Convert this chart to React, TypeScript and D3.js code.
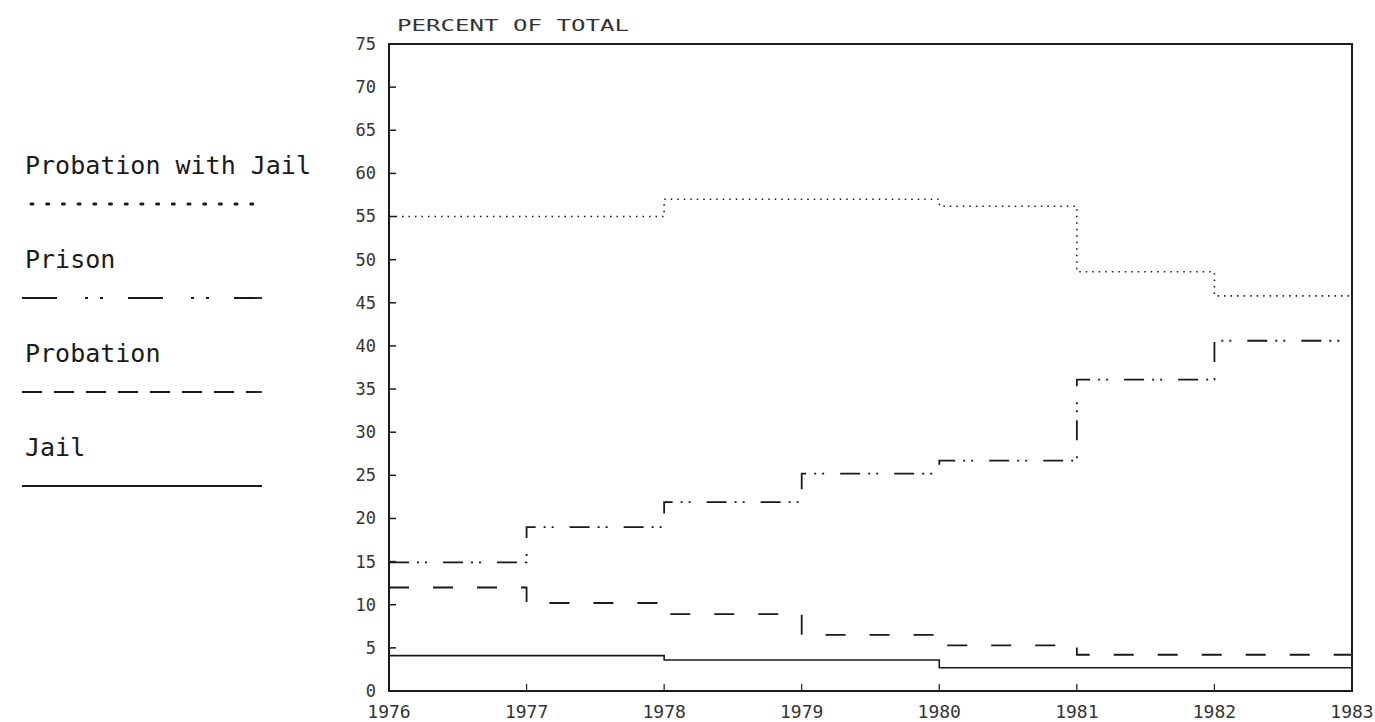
import React from "react";
import * as d3 from "d3";

const years = [1976, 1977, 1978, 1979, 1980, 1981, 1982];
const endYear = 1983;
const probationWithJail = [55, 55, 57, 57, 56.2, 48.6, 45.8];
const prison = [14.9, 19.0, 21.9, 25.2, 26.7, 36.1, 40.6];
const probation = [12.0, 10.2, 8.9, 6.5, 5.3, 4.2, 4.2];
const jail = [4.1, 4.1, 3.6, 3.6, 2.7, 2.7, 2.7];
const yTicks = [0, 5, 10, 15, 20, 25, 30, 35, 40, 45, 50, 55, 60, 65, 70, 75];
const xTicks = [1976, 1977, 1978, 1979, 1980, 1981, 1982, 1983];
const legendNames = ["Probation with Jail", "Prison", "Probation", "Jail"];

const W = 1375;
const H = 722;
const INK = "#1a1a1a";

export default function App() {
  const x = d3.scaleLinear().domain([1976, 1983]).range([389, 1352]);
  const y = d3.scaleLinear().domain([0, 75]).range([691, 44]);
  const line = d3
    .line<[number, number]>()
    .x((d) => x(d[0]))
    .y((d) => y(d[1]))
    .curve(d3.curveStepAfter);
  const pts = (vals: number[]): [number, number][] => [
    ...years.map((yr, i) => [yr, vals[i]] as [number, number]),
    [endYear, vals[vals.length - 1]],
  ];

  const series = [
    { vals: probationWithJail, dash: "1.5,5", w: 1.6 },
    { vals: prison, dash: "20,8,2,6,2,16", w: 1.8 },
    { vals: probation, dash: "20,24", w: 1.8 },
    { vals: jail, dash: "none", w: 1.6 },
  ];

  const legendDash = ["2,13.7", "35,28,3,12,3,25", "20,12", "none"];
  const legendTop = 174;
  const legendStep = 94;

  const mono = "'DejaVu Sans Mono', 'Liberation Mono', monospace";

  return (
    <svg
      width={W}
      height={H}
      style={{ position: "absolute", left: 0, top: 0, background: "#fff" }}
    >
      {/* title */}
      <text
        x={397}
        y={31}
        fontFamily={mono}
        fontSize={15}
        fill="#333"
        textLength={232}
        lengthAdjust="spacingAndGlyphs"
      >
        PERCENT OF TOTAL
      </text>

      {/* frame */}
      <rect
        x={x(1976)}
        y={y(75)}
        width={x(1983) - x(1976)}
        height={y(0) - y(75)}
        fill="none"
        stroke={INK}
        strokeWidth={2}
      />

      {/* y ticks */}
      {yTicks.map((t) => (
        <g key={"y" + t}>
          {t > 0 && t < 75 && (
            <line
              x1={x(1976)}
              x2={x(1976) + 7}
              y1={y(t)}
              y2={y(t)}
              stroke={INK}
              strokeWidth={1.5}
            />
          )}
          <text
            x={376}
            y={y(t)}
            dy="0.35em"
            textAnchor="end"
            fontFamily={mono}
            fontSize={17}
            fill="#333"
          >
            {t}
          </text>
        </g>
      ))}

      {/* x ticks */}
      {xTicks.map((t) => (
        <g key={"x" + t}>
          {t > 1976 && t < 1983 && (
            <line
              x1={x(t)}
              x2={x(t)}
              y1={y(0)}
              y2={y(0) - 7}
              stroke={INK}
              strokeWidth={1.2}
            />
          )}
          <text
            x={x(t)}
            y={718}
            textAnchor="middle"
            fontFamily={mono}
            fontSize={18}
            fill="#333"
          >
            {t}
          </text>
        </g>
      ))}

      {/* series */}
      {series.map((s, i) => (
        <path
          key={"s" + i}
          d={line(pts(s.vals)) || ""}
          fill="none"
          stroke={INK}
          strokeWidth={s.w}
          strokeDasharray={s.dash}
        />
      ))}

      {/* legend */}
      {legendNames.map((name, i) => {
        const by = legendTop + i * legendStep;
        return (
          <g key={"l" + i}>
            <text x={25} y={by} fontFamily={mono} fontSize={25} fill={INK}>
              {name}
            </text>
            <line
              x1={i === 0 ? 31 : 22}
              x2={262}
              y1={by + 30}
              y2={by + 30}
              stroke={INK}
              strokeWidth={i === 0 ? 3 : 1.8}
              strokeLinecap={i === 0 ? "round" : "butt"}
              strokeDasharray={legendDash[i]}
            />
          </g>
        );
      })}
    </svg>
  );
}
